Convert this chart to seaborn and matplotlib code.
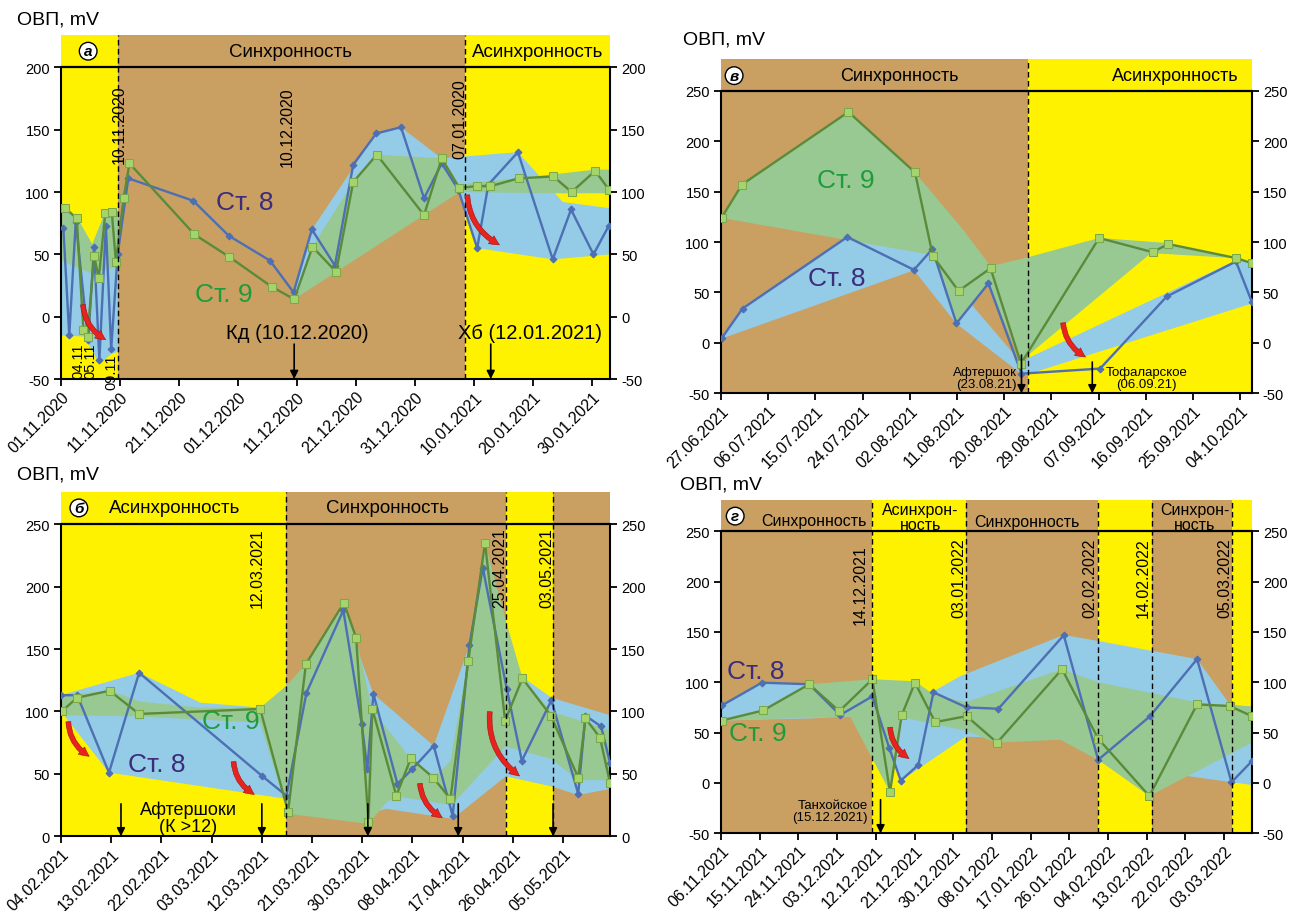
import matplotlib
matplotlib.use('Agg')
import matplotlib.pyplot as plt
import numpy as np
import pandas as pd
import seaborn as sns
from matplotlib.patches import FancyArrowPatch

sns.set_style('ticks')
plt.rcParams['font.family'] = ['Liberation Sans', 'DejaVu Sans']
plt.rcParams['text.color'] = 'black'
plt.rcParams['xtick.color'] = 'black'
plt.rcParams['ytick.color'] = 'black'
plt.rcParams['axes.edgecolor'] = 'black'

YELLOW = '#fff200'
BROWN = '#c9a062'
BLUE_FILL = '#94cbe6'
GREEN_FILL = '#98c992'
BLUE_LINE = '#4d6fb3'
GREEN_LINE = '#5b8b3a'
GREEN_MFC = '#a6d46c'
RED = '#e8231e'
TXT8 = '#3b2c7c'
TXT9 = '#1f9b3c'
PHASE_COLOR = {'syn': BROWN, 'asyn': YELLOW}

# ---------------- Panel а ----------------
A_BASE = '01.11.2020'
A_TICKS = ['01.11.2020', '11.11.2020', '21.11.2020', '01.12.2020', '11.12.2020',
           '21.12.2020', '31.12.2020', '10.01.2021', '20.01.2021', '30.01.2021']
A_BOUNDS = [0, 9.7, 68.4, 93]
A_PHASES = ['asyn', 'syn', 'asyn']
A8_X = [0.4, 1.4, 2.5, 4.6, 5.6, 6.5, 7.6, 8.5, 9.6, 11.4, 22.4, 28.4, 35.4, 39.4, 42.5,
        46.4, 49.5, 53.4, 57.6, 61.5, 64.5, 67.3, 70.5, 72.4, 77.4, 83.3, 86.4, 90.2, 92.8]
A8_Y = [71, -15, 76, -19, 56, -35, 73, -26, 50, 111, 93, 65, 45, 19.5, 70,
        41, 122, 147, 152, 95, 123, 102, 55, 106, 132, 46, 86, 50, 73]
A9_X = [0.7, 2.66, 3.8, 4.5, 5.6, 6.4, 7.5, 8.6, 9.3, 10.6, 11.6, 22.6, 28.5, 35.7, 39.5,
        42.6, 46.6, 49.5, 53.5, 61.5, 64.5, 67.5, 70.5, 72.6, 77.5, 83.4, 86.5, 90.5, 92.8]
A9_Y = [87, 79, -11, -16, 49, 31, 83, 84, 44, 95, 123, 66, 48, 24, 14,
        56, 36, 108, 130, 81.5, 127, 103, 105, 104.5, 111, 112.5, 100, 117, 102]
A_ENV8 = [
    [(0, 88), (2.66, 80), (5.3, 58), (7.5, 84), (9.7, 85), (9.7, -28), (8.5, -30), (6.5, -38), (4, -16), (0, -15)],
    [(39.4, 19), (42.5, 70), (53.4, 147), (57.6, 152), (64.5, 127), (77.4, 132), (85, 92), (93, 87),
     (93, 50), (83.3, 46), (70.5, 55), (67.4, 100), (39.4, 16)],
]
A_ENV9 = [
    [(0, 88), (2.66, 80), (5.3, 58), (7.5, 84), (9.7, 85), (9.7, 40), (5, 35), (0, 45)],
    [(39.5, 14), (42.6, 56), (49.5, 108), (53.5, 130), (64.5, 127), (67.5, 106), (77.5, 111), (90.5, 118),
     (93, 118), (93, 99), (83.4, 99), (67.5, 100), (39.5, 14)],
]

# ---------------- Panel в ----------------
V_BASE = '27.06.2021'
V_TICKS = ['27.06.2021', '06.07.2021', '15.07.2021', '24.07.2021', '02.08.2021', '11.08.2021',
           '20.08.2021', '29.08.2021', '07.09.2021', '16.09.2021', '25.09.2021', '04.10.2021']
V_BOUNDS = [0, 58.6, 101.2]
V_PHASES = ['syn', 'asyn']
V8_X = [0.1, 4.1, 24.1, 36.8, 40.3, 44.9, 51, 57.3, 72.3, 85, 98.2, 101.2]
V8_Y = [4.4, 34, 105, 72.4, 93, 19.3, 59, -30.5, -25.5, 46, 80.7, 41]
V9_X = [0.1, 4, 24.3, 37, 40.4, 45.3, 51.4, 57.2, 72.1, 82.3, 85.3, 98.3, 101.2]
V9_Y = [124, 157, 229, 169, 86, 51.5, 74, -20.5, 104, 90, 98, 84, 79]
V_ENV8 = [
    [(0, 4), (4.1, 34), (24.1, 105), (40.3, 90), (45, 55), (57.3, -20), (58.6, -15), (98.3, 82), (101.2, 80),
     (101.2, 39), (58.6, -31), (57.3, -31), (44.9, 19), (36.8, 72), (0, 4)],
]
V_ENV9 = [
    [(0, 124), (4, 157), (24.3, 229), (37, 169), (46.2, 112), (51.4, 76), (58.6, 85), (72.1, 104), (85.3, 99),
     (101.2, 80), (98.3, 84), (82, 89), (58.6, -12), (57.2, -20), (51, 59), (44.9, 19), (40.4, 87), (0, 124)],
]

# ---------------- Panel б ----------------
B_BASE = '04.02.2021'
B_TICKS = ['04.02.2021', '13.02.2021', '22.02.2021', '03.03.2021', '12.03.2021', '21.03.2021',
           '30.03.2021', '08.04.2021', '17.04.2021', '26.04.2021', '05.05.2021']
B_BOUNDS = [0, 40.3, 79.7, 88.2, 98.4]
B_PHASES = ['asyn', 'syn', 'asyn', 'syn']
B8_X = [0, 2.9, 8.6, 14, 36, 40.4, 44, 50.6, 53.9, 54.9, 56, 60.3, 63, 66.8, 70.2, 73.2,
        75.6, 79.9, 82.6, 87.9, 92.7, 94, 96.8, 98.4]
B8_Y = [113, 113, 51, 131, 48.5, 32.5, 115, 181, 90, 54, 114, 42, 54, 72.5, 16.5, 153,
        215, 118, 60.5, 109, 34, 96.6, 88, 59]
B9_X = [0.1, 2.9, 8.7, 14, 35.7, 40.7, 43.9, 50.7, 52.9, 55.1, 55.8, 60.1, 62.7, 66.7, 69.8,
        73, 76, 79.6, 82.7, 87.8, 92.7, 94, 96.6, 98.4]
B9_Y = [100, 111, 116.6, 98, 102, 19.7, 138, 187, 159, 11.5, 102, 32.5, 62.5, 47, 30,
        140.6, 235, 92.6, 126.5, 96.6, 47, 94.5, 79, 43]
B_ENV8 = [
    [(0, 113), (14, 131), (25, 107), (36, 103), (43.9, 135), (50.6, 181), (56, 114), (66.8, 72.5), (73.2, 153),
     (75.6, 215), (79.9, 150), (82.6, 128), (87.9, 111), (98.4, 97), (98.4, 38), (92.7, 33), (87.9, 40),
     (79.7, 48), (70.2, 14), (58.3, 22), (55.1, 18), (40.4, 30), (8.6, 51), (0, 100)],
]
B_ENV9 = [
    [(0, 112), (8.7, 117), (14, 108), (25, 103), (35.7, 103), (40.3, 120), (43.9, 138), (50.7, 187),
     (52.9, 159), (55.8, 101), (62.7, 62), (66.7, 47), (69.8, 60), (73, 141), (76, 235), (79.9, 170),
     (82.7, 127), (87.8, 100), (98.4, 85), (98.4, 45), (92.7, 45), (87.9, 62), (79.7, 72), (70, 25),
     (60.1, 32), (58.3, 27), (55.1, 10), (40.7, 18), (35.7, 91), (14, 96), (0, 97)],
]

# ---------------- Panel г ----------------
G_BASE = '06.11.2021'
G_TICKS = ['06.11.2021', '15.11.2021', '24.11.2021', '03.12.2021', '12.12.2021', '21.12.2021',
           '30.12.2021', '08.01.2022', '17.01.2022', '26.01.2022', '04.02.2022', '13.02.2022',
           '22.02.2022', '03.03.2022']
G_BOUNDS = [0, 35.2, 56.9, 87.6, 100.3, 118.9, 123.4]
G_PHASES = ['syn', 'asyn', 'syn', 'asyn', 'syn', 'asyn']
G8_X = [0.2, 9.5, 20.5, 27.7, 35.2, 39.1, 41.8, 45.9, 49.4, 57.1, 64.5, 79.7, 87.7, 99.7, 110.7, 118.7, 123.4]
G8_Y = [77, 99.6, 98, 67.4, 86, 35, 2.3, 18, 90, 75, 73.7, 146.7, 23, 66, 123, 0.7, 21.5]
G9_X = [0.2, 9.8, 20.5, 27.5, 35.2, 39.3, 42, 45.1, 49.8, 57.1, 64.2, 79.3, 87.7, 99.6, 110.7, 118.3, 123.4]
G9_Y = [62, 72, 98, 71.3, 103, -9, 67, 99.6, 60.4, 66.4, 40, 113, 44, -13, 78, 76.4, 66.4]
G_ENV8 = [
    [(0, 77), (9.5, 100), (20.5, 98), (35.2, 95), (41.6, 66), (49.4, 91), (55.6, 106), (79.7, 147),
     (87.7, 141), (110.7, 123), (118.3, 78), (123.4, 76), (123.4, -2), (108.2, 7), (99.7, -10), (87.7, 23),
     (79, 43), (56.9, 46), (41.8, 2), (39.1, 35), (35.2, 62), (30, 66), (20.5, 64), (0, 62)],
]
G_ENV9 = [
    [(0, 62), (9.8, 72), (20.5, 98), (35.2, 103), (45.1, 101), (49.4, 88), (56.9, 80), (79.3, 113),
     (87.7, 100), (110.7, 80), (118.3, 77), (123.4, 76), (123.4, 40), (99.6, -13), (87.7, 23), (79, 43),
     (64, 40), (56.9, 52), (49.8, 58), (41.6, 66), (39.3, -9), (30, 66), (0, 62)],
]

W, H = 1301, 912
fig = plt.figure(figsize=(W / 100, H / 100), dpi=100)


def add_axes(l, t, r, b):
    return fig.add_axes([l / W, 1 - b / H, (r - l) / W, (b - t) / H])


def draw_panel(ax, base, ticks, xmax, yticks, ytop, bounds, phases, s8x, s8y, s9x, s9y, env8, env9):
    ymin, ymaxt = yticks[0], yticks[-1]
    for x0, x1, ph in zip(bounds[:-1], bounds[1:], phases):
        ax.axvspan(x0, x1, color=PHASE_COLOR[ph], lw=0, zorder=0)
    for poly in env8:
        xs, ys = zip(*poly)
        ax.fill(xs, ys, color=BLUE_FILL, lw=0, zorder=1)
    for poly in env9:
        xs, ys = zip(*poly)
        ax.fill(xs, ys, color=GREEN_FILL, lw=0, zorder=2)
    sns.lineplot(x=s8x, y=s8y, ax=ax, color=BLUE_LINE, lw=1.7, marker='D', markersize=3.5,
                 markerfacecolor=BLUE_LINE, markeredgecolor=BLUE_LINE, sort=False, estimator=None, zorder=4)
    sns.lineplot(x=s9x, y=s9y, ax=ax, color=GREEN_LINE, lw=1.7, marker='s', markersize=5.5,
                 markerfacecolor=GREEN_MFC, markeredgecolor='#7aa84a', sort=False, estimator=None, zorder=5)
    for xb in bounds[1:-1]:
        ax.axvline(xb, color='black', ls=(0, (4, 2.5)), lw=1, zorder=6)
    ax.axhline(ymaxt, color='black', lw=1.6, zorder=7)
    bts = pd.to_datetime(base, format='%d.%m.%Y')
    pos = [(pd.to_datetime(t, format='%d.%m.%Y') - bts).days for t in ticks]
    ax.set_xticks(pos)
    ax.set_xticklabels(ticks, rotation=45, ha='right', rotation_mode='anchor', fontsize=11.5)
    ax.set_yticks(yticks)
    ax.set_yticklabels([str(v) for v in yticks])
    ax.set_xlim(0, xmax)
    ax.set_ylim(ymin, ytop)
    ax.tick_params(axis='y', left=True, right=True, labelleft=True, labelright=True,
                   labelsize=10.5, width=1.3, length=5, pad=3)
    ax.tick_params(axis='x', width=1.3, length=5, pad=2)
    for s in ['left', 'right']:
        ax.spines[s].set_bounds(ymin, ymaxt)
        ax.spines[s].set_linewidth(1.5)
        ax.spines[s].set_visible(True)
    ax.spines['top'].set_visible(False)
    ax.spines['bottom'].set_linewidth(1.5)
    ax.set_xlabel('')
    ax.set_ylabel('')


def red_arrow(ax, p0, p1, rad=0.3):
    a = FancyArrowPatch(p0, p1, connectionstyle=f'arc3,rad={rad}',
                        arrowstyle='simple,head_width=7,head_length=7,tail_width=3.5',
                        fc=RED, ec='#a01010', lw=0.4, zorder=8, mutation_scale=1)
    ax.add_patch(a)


def black_arrow(ax, x, y0, y1):
    ax.annotate('', xy=(x, y1), xytext=(x, y0),
                arrowprops=dict(arrowstyle='-|>', color='black', lw=1.2, mutation_scale=12,
                                shrinkA=0, shrinkB=0), zorder=9, annotation_clip=False)


def circ(ax, x, y, s):
    ax.text(x, y, s, ha='center', va='center', fontsize=11, fontweight='bold', fontstyle='italic',
            zorder=9, bbox=dict(boxstyle='circle,pad=0.12', fc='white', ec='black', lw=1))


def vlabel(ax, x, y, s, fs=11.5):
    ax.text(x, y, s, rotation=90, ha='center', va='top', fontsize=fs, zorder=9)


# ---- а ----
ax = add_axes(61, 36, 610, 380)
draw_panel(ax, A_BASE, A_TICKS, 93, [-50, 0, 50, 100, 150, 200], 226, A_BOUNDS, A_PHASES,
           A8_X, A8_Y, A9_X, A9_Y, A_ENV8, A_ENV9)
circ(ax, 4.6, 213, 'а')
ax.text(38.8, 213, 'Синхронность', ha='center', va='center', fontsize=13.5, zorder=9)
ax.text(80.7, 213, 'Асинхронность', ha='center', va='center', fontsize=13.5, zorder=9)
vlabel(ax, 9.9, 186, '10.11.2020')
vlabel(ax, 38.25, 185, '10.12.2020')
vlabel(ax, 67.6, 191, '07.01.2020')
ax.text(2.9, -49, '04.11', rotation=90, ha='center', va='bottom', fontsize=10.5, zorder=9)
ax.text(5.0, -49, '05.11', rotation=90, ha='center', va='bottom', fontsize=10.5, zorder=9)
ax.text(8.56, -58, '09.11', rotation=90, ha='center', va='bottom', fontsize=10.5, zorder=9, clip_on=False)
ax.text(31.2, 92, 'Ст. 8', color=TXT8, fontsize=19, ha='center', va='center', zorder=9)
ax.text(27.5, 18, 'Ст. 9', color=TXT9, fontsize=19, ha='center', va='center', zorder=9)
ax.text(40, -12.5, 'Кд (10.12.2020)', fontsize=14.5, ha='center', va='center', zorder=9)
ax.text(79.5, -12.5, 'Хб (12.01.2021)', fontsize=14.5, ha='center', va='center', zorder=9)
black_arrow(ax, 39.5, -22, -50)
black_arrow(ax, 72.8, -22, -50)
red_arrow(ax, (3.7, 11.8), (8.0, -19.5))
red_arrow(ax, (68.8, 99.9), (74.7, 56.6))

# ---- в ----
ax = add_axes(721, 60, 1251.7, 394.3)
draw_panel(ax, V_BASE, V_TICKS, 101.2, [-50, 0, 50, 100, 150, 200, 250], 281.5, V_BOUNDS, V_PHASES,
           V8_X, V8_Y, V9_X, V9_Y, V_ENV8, V_ENV9)
circ(ax, 2.5, 265, 'в')
ax.text(34.1, 265, 'Синхронность', ha='center', va='center', fontsize=13, zorder=9)
ax.text(86.6, 265, 'Асинхронность', ha='center', va='center', fontsize=13, zorder=9)
ax.text(23.8, 162, 'Ст. 9', color=TXT9, fontsize=19, ha='center', va='center', zorder=9)
ax.text(22.1, 64, 'Ст. 8', color=TXT8, fontsize=19, ha='center', va='center', zorder=9)
ax.text(56.4, -35, 'Афтершок\n(23.08.21)', ha='right', va='center', fontsize=9.5, zorder=9,
        linespacing=1.0)
ax.text(81.2, -35, 'Тофаларское\n(06.09.21)', ha='center', va='center', fontsize=9.5, zorder=9,
        linespacing=1.0)
black_arrow(ax, 57.3, -12, -50)
black_arrow(ax, 70.8, -19, -50)
red_arrow(ax, (65.2, 22.6), (70.0, -15.2))

# ---- б ----
ax = add_axes(61, 492.7, 610, 837.3)
draw_panel(ax, B_BASE, B_TICKS, 98.4, [0, 50, 100, 150, 200, 250], 276, B_BOUNDS, B_PHASES,
           B8_X, B8_Y, B9_X, B9_Y, B_ENV8, B_ENV9)
circ(ax, 3.2, 263, 'б')
ax.text(20.4, 263, 'Асинхронность', ha='center', va='center', fontsize=13.5, zorder=9)
ax.text(58.6, 263, 'Синхронность', ha='center', va='center', fontsize=13.5, zorder=9)
vlabel(ax, 35.1, 247.6, '12.03.2021')
vlabel(ax, 78.7, 247.6, '25.04.2021')
vlabel(ax, 87.0, 247.6, '03.05.2021')
ax.text(17.2, 58, 'Ст. 8', color=TXT8, fontsize=19, ha='center', va='center', zorder=9)
ax.text(30.5, 92.5, 'Ст. 9', color=TXT9, fontsize=19, ha='center', va='center', zorder=9)
ax.text(22.8, 15, 'Афтершоки\n(К >12)', ha='center', va='center', fontsize=13, zorder=9, linespacing=1.0)
for xa in [10.75, 36, 55, 71.2, 88.2]:
    black_arrow(ax, xa, 26, 0)
red_arrow(ax, (1.3, 94), (5.5, 63))
red_arrow(ax, (30.9, 62), (35.1, 32.5))
red_arrow(ax, (64.3, 44.5), (68.8, 13.9))
red_arrow(ax, (76.9, 102), (82.6, 47))

# ---- г ----
ax = add_axes(721, 501, 1251.7, 834.3)
draw_panel(ax, G_BASE, G_TICKS, 123.4, [-50, 0, 50, 100, 150, 200, 250], 281, G_BOUNDS, G_PHASES,
           G8_X, G8_Y, G9_X, G9_Y, G_ENV8, G_ENV9)
circ(ax, 3.3, 265, 'г')
ax.text(21.6, 260.6, 'Синхронность', ha='center', va='center', fontsize=11.5, zorder=9)
ax.text(46.3, 264, 'Асинхрон-\nность', ha='center', va='center', fontsize=11.5, zorder=6.5, linespacing=1.0)
ax.text(71.1, 260, 'Синхронность', ha='center', va='center', fontsize=11.5, zorder=9)
ax.text(110.2, 264, 'Синхрон-\nность', ha='center', va='center', fontsize=11.5, zorder=6.5, linespacing=1.0)
vlabel(ax, 32.3, 237, '14.12.2021')
vlabel(ax, 55.2, 244, '03.01.2022')
vlabel(ax, 85.8, 244, '02.02.2022')
vlabel(ax, 98.2, 244, '14.02.2022')
vlabel(ax, 117.2, 244, '05.03.2022')
ax.text(8.1, 111, 'Ст. 8', color=TXT8, fontsize=19, ha='center', va='center', zorder=9)
ax.text(8.6, 50, 'Ст. 9', color=TXT9, fontsize=19, ha='center', va='center', zorder=9)
ax.text(34.2, -28, 'Танхойское\n(15.12.2021)', ha='right', va='center', fontsize=9.5, zorder=9,
        linespacing=1.0)
black_arrow(ax, 37.1, -16.6, -50)
red_arrow(ax, (39.3, 58), (44.3, 23))

# ---- axis titles ----
for (xp, yp) in [(17, 20), (683, 40), (17, 475), (680, 485)]:
    fig.text(xp / W, 1 - yp / H, 'ОВП, mV', ha='left', va='center', fontsize=14)

fig.savefig('out.png', dpi=100)
